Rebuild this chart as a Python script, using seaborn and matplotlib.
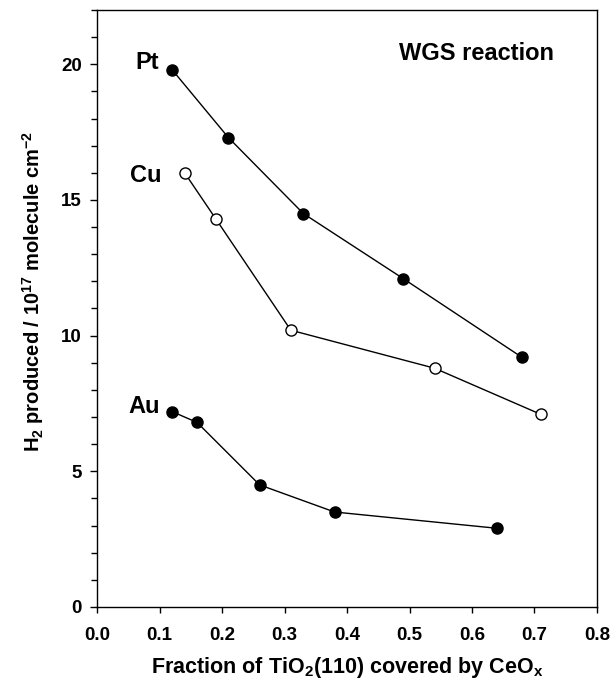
import numpy as np
import pandas as pd
import matplotlib
matplotlib.use("Agg")
import matplotlib.pyplot as plt
import seaborn as sns
from matplotlib.ticker import MultipleLocator, FormatStrFormatter

# data
pt_x = [0.12, 0.21, 0.33, 0.49, 0.68]
pt_y = [19.8, 17.3, 14.5, 12.1, 9.2]
cu_x = [0.14, 0.19, 0.31, 0.54, 0.71]
cu_y = [16.0, 14.3, 10.2, 8.8, 7.1]
au_x = [0.12, 0.16, 0.26, 0.38, 0.64]
au_y = [7.2, 6.8, 4.5, 3.5, 2.9]

sns.set_style("ticks")
plt.rcParams['font.family'] = ['Liberation Sans', 'DejaVu Sans']
plt.rcParams['font.weight'] = 'bold'
plt.rcParams['text.color'] = 'black'
plt.rcParams['axes.labelcolor'] = 'black'
plt.rcParams['xtick.color'] = 'black'
plt.rcParams['ytick.color'] = 'black'
plt.rcParams['mathtext.fontset'] = 'custom'
plt.rcParams['mathtext.rm'] = 'Liberation Sans:bold'
plt.rcParams['mathtext.it'] = 'Liberation Sans:bold'
plt.rcParams['mathtext.bf'] = 'Liberation Sans:bold'
plt.rcParams['mathtext.default'] = 'rm'

fig = plt.figure(figsize=(6.11, 6.81), dpi=100)
ax = fig.add_axes([0.159, 0.1087, 0.818, 0.8766])

for xs, ys, fill in [(pt_x, pt_y, 'black'), (cu_x, cu_y, 'white'), (au_x, au_y, 'black')]:
    df = pd.DataFrame({'x': xs, 'y': ys})
    sns.lineplot(data=df, x='x', y='y', ax=ax, color='black', lw=1.0,
                 marker='o', markersize=8, markerfacecolor=fill,
                 markeredgecolor='black', markeredgewidth=1.0)

ax.text(0.08, 20.07, 'Pt', fontsize=17, fontweight='bold', ha='center', va='center')
ax.text(0.078, 15.9, 'Cu', fontsize=17, fontweight='bold', ha='center', va='center')
ax.text(0.075, 7.37, 'Au', fontsize=17, fontweight='bold', ha='center', va='center')
ax.text(0.608, 20.4, 'WGS reaction', fontsize=17, fontweight='bold', ha='center', va='center')

ax.set_xlim(0, 0.8)
ax.set_ylim(0, 22)
ax.xaxis.set_major_locator(MultipleLocator(0.1))
ax.yaxis.set_major_locator(MultipleLocator(5))
ax.yaxis.set_minor_locator(MultipleLocator(1))
ax.tick_params(axis='x', which='major', direction='out', length=4.5, width=1,
               labelsize=13.5, pad=10)
ax.tick_params(axis='y', which='major', direction='out', length=5, width=1,
               labelsize=13.5, pad=6)
ax.tick_params(axis='y', which='minor', direction='out', length=4, width=1)
for lbl in ax.get_xticklabels() + ax.get_yticklabels():
    lbl.set_fontweight('bold')
ax.xaxis.set_major_formatter(FormatStrFormatter('%.1f'))
ax.yaxis.set_major_formatter(FormatStrFormatter('%d'))
for s in ax.spines.values():
    s.set_linewidth(1.0)
    s.set_color('black')

ax.set_xlabel('Fraction of TiO$_2$(110) covered by CeO$_x$', fontsize=15.5,
              fontweight='bold', va='center')
ax.set_ylabel('H$_2$ produced / 10$^{17}$ molecule cm$^{-2}$', fontsize=14.5,
              fontweight='bold', va='center')
ax.xaxis.set_label_coords(0.5, -0.102)
ax.yaxis.set_label_coords(-0.128, 0.529)

fig.savefig('out.png', dpi=100)
